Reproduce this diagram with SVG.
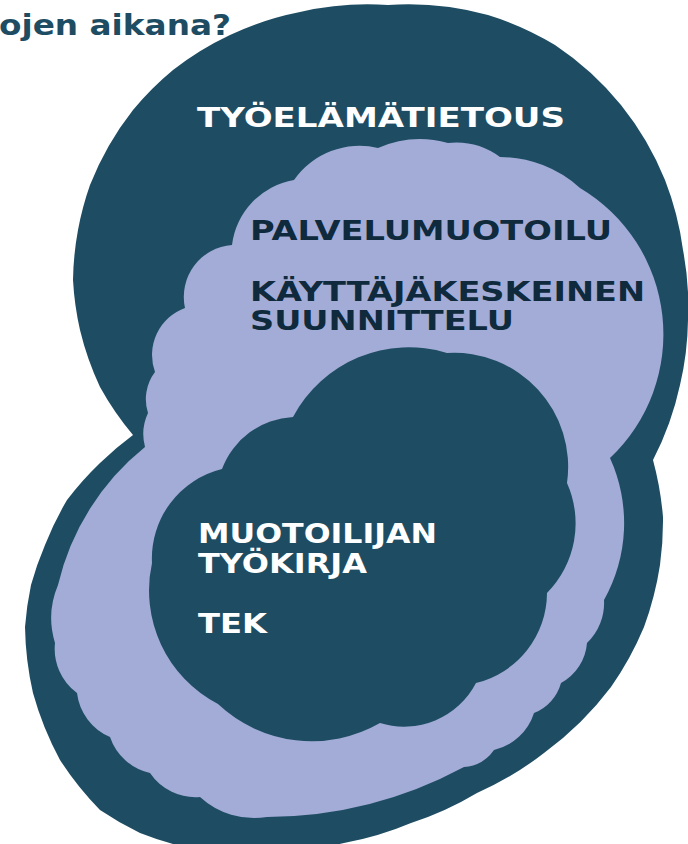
<svg xmlns="http://www.w3.org/2000/svg" width="688" height="844" viewBox="0 0 688 844">
<style>
.dark{fill:#1e4d63}
.lav{fill:#a3acd7}
.lbl{font-family:"DejaVu Sans","Liberation Sans",sans-serif;font-weight:bold;font-size:26px}
.w{fill:#ffffff}
.n{fill:#0e2a3c}
.title{font-family:"DejaVu Sans","Liberation Sans",sans-serif;font-weight:bold;font-size:29px;fill:#1e4d63}
</style>
<rect width="688" height="844" fill="#ffffff"/>
<g id="title">
<text class="title" x="-1" y="35" textLength="232" lengthAdjust="spacingAndGlyphs">ojen aikana?</text>
</g>
<g id="tyoelamatietous">
<path class="dark" d="M133 435 A300 300 0 0 1 100 387 A300 300 0 0 1 80 330 A300 300 0 0 1 73 280 A300 300 0 0 1 78 230 A300 300 0 0 1 90 185 A300 300 0 0 1 133 110 A300 300 0 0 1 173 70 A300 300 0 0 1 230 35 A300 300 0 0 1 300 12 A300 300 0 0 1 388 5 A300 300 0 0 1 488 15 A300 300 0 0 1 555 45 A300 300 0 0 1 621 105 A300 300 0 0 1 665 180 A300 300 0 0 1 683 250 A300 300 0 0 1 688 320 A300 300 0 0 1 680 385 A300 300 0 0 1 653 460 A320 320 0 0 1 663 517 A320 320 0 0 1 660 565 A320 320 0 0 1 644 627 A320 320 0 0 1 611 687 A320 320 0 0 1 544 753 A320 320 0 0 1 477 793 A320 320 0 0 1 411 823 A320 320 0 0 1 344 843 A320 320 0 0 1 260 851 A320 320 0 0 1 173 844 A320 320 0 0 1 140 833 A320 320 0 0 1 100 810 A320 320 0 0 1 60 760 A320 320 0 0 1 33 693 A320 320 0 0 1 25 627 A320 320 0 0 1 31 585 A320 320 0 0 1 45 545 A320 320 0 0 1 67 500 A320 320 0 0 1 100 463 A320 320 0 0 1 133 435 Z"/>
<text class="lbl w" x="197" y="127" textLength="368" lengthAdjust="spacingAndGlyphs">TYÖELÄMÄTIETOUS</text>
</g>
<g id="palvelumuotoilu">
<path class="lav" d="M294 180 A80 80 0 0 1 378 148 A105 105 0 0 1 448 143 A75 75 0 0 1 500 157 A120 120 0 0 1 580 188 A170 170 0 0 1 610 458 A157 157 0 0 1 604 600 A55 55 0 0 1 587 643 A50 50 0 0 1 561 683 A45 45 0 0 1 534 713 A55 55 0 0 1 494 750 A40 40 0 0 1 464 767 A420 420 0 0 1 267 817 A80 80 0 0 1 200 797 A55 55 0 0 1 150 773 A55 55 0 0 1 110 737 A55 55 0 0 1 77 693 A55 55 0 0 1 55 643 A85 85 0 0 1 58 585 A250 250 0 0 1 145 447 A50 50 0 0 1 148 413 A45 45 0 0 1 155 372 A50 50 0 0 1 185 308 A52 52 0 0 1 232 245 A75 75 0 0 1 294 180 Z"/>
<text class="lbl n" x="250" y="240" textLength="362" lengthAdjust="spacingAndGlyphs">PALVELUMUOTOILU</text>
<text class="lbl n" x="250" y="301" textLength="395" lengthAdjust="spacingAndGlyphs">KÄYTTÄJÄKESKEINEN</text>
<text class="lbl n" x="250" y="330" textLength="264" lengthAdjust="spacingAndGlyphs">SUUNNITTELU</text>
</g>
<g id="muotoilijan-tyokirja">
<path class="dark" d="M293 417 A131 131 0 0 1 447 353 A114 114 0 0 1 567 483 A99 99 0 0 1 547 593 A93 93 0 0 1 476 683 A81 81 0 0 1 380 723 A137 137 0 0 1 218 704 A128 128 0 0 1 152 563 A92 92 0 0 1 222 469 A80 80 0 0 1 293 417 Z"/>
<text class="lbl w" x="198" y="543" textLength="239" lengthAdjust="spacingAndGlyphs">MUOTOILIJAN</text>
<text class="lbl w" x="198" y="573" textLength="169" lengthAdjust="spacingAndGlyphs">TYÖKIRJA</text>
<text class="lbl w" x="198" y="633" textLength="69" lengthAdjust="spacingAndGlyphs">TEK</text>
</g>
<g id="connectors"/>
</svg>
